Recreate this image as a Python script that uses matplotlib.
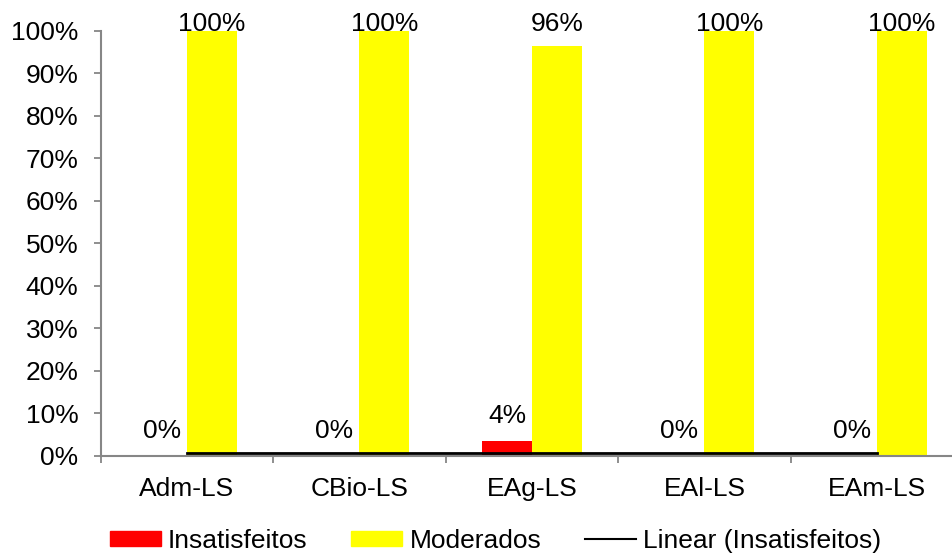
import numpy as np
import matplotlib
matplotlib.use("Agg")
import matplotlib.pyplot as plt
from matplotlib.lines import Line2D
from matplotlib.patches import Patch

plt.rcParams['font.family'] = ['Liberation Sans', 'DejaVu Sans']

# dados
categorias = ["Adm-LS", "CBio-LS", "EAg-LS", "EAl-LS", "EAm-LS"]
insatisfeitos = [0.0, 0.0, 3.6, 0.0, 0.0]
moderados = [100.0, 100.0, 96.4, 100.0, 100.0]

cinza = "#868686"
fs = 19

fig = plt.figure(figsize=(9.53, 5.55), dpi=100)
ax = fig.add_axes([0.1057, 0.1784, 0.905, 0.7658])

x = np.arange(len(categorias))
w = 0.29
ax.bar(x - w / 2, insatisfeitos, w, color="#FF0000", zorder=2)
ax.bar(x + w / 2, moderados, w, color="#FFFF00", zorder=2)

# linha de tendência linear (Insatisfeitos)
coef = np.polyfit(x, insatisfeitos, 1)
ax.plot(x, np.polyval(coef, x), color="black", lw=2, zorder=3)

# rótulos de dados
off = 4.2
for xi, v in zip(x - w / 2, insatisfeitos):
    ax.text(xi, min(v + off, 100), "{:.0f}%".format(v), ha="center",
            va="baseline", fontsize=fs, clip_on=False)
for xi, v in zip(x + w / 2, moderados):
    ax.text(xi, min(v + off, 100), "{:.0f}%".format(v), ha="center",
            va="baseline", fontsize=fs, clip_on=False)

ax.set_xlim(-0.5, len(categorias) - 0.5)
ax.set_ylim(0, 100)
ax.set_yticks(np.arange(0, 101, 10))
ax.set_yticklabels(["{}%".format(t) for t in range(0, 101, 10)], fontsize=fs)
ax.tick_params(axis="y", length=5, width=1.3, color=cinza, pad=11)

ax.set_xticks(np.arange(-0.5, len(categorias), 1))
ax.set_xticklabels([])
ax.tick_params(axis="x", which="major", length=5, width=1.3, color=cinza)
ax.set_xticks(x, minor=True)
ax.set_xticklabels(categorias, minor=True, fontsize=fs)
ax.tick_params(axis="x", which="minor", length=0, pad=15)

for s in ["top", "right"]:
    ax.spines[s].set_visible(False)
for s in ["left", "bottom"]:
    ax.spines[s].set_color(cinza)
    ax.spines[s].set_linewidth(1.5)

handles = [Patch(color="#FF0000"), Patch(color="#FFFF00"),
           Line2D([], [], color="black", lw=1.5)]
fig.legend(handles, ["Insatisfeitos", "Moderados", "Linear (Insatisfeitos)"],
           loc="center", bbox_to_anchor=(0.52, 0.026), ncol=3, frameon=False,
           fontsize=fs, handlelength=1.93, handleheight=0.49,
           handletextpad=0.27, columnspacing=1.67, borderpad=0, borderaxespad=0)

fig.savefig("out.png", dpi=100)
